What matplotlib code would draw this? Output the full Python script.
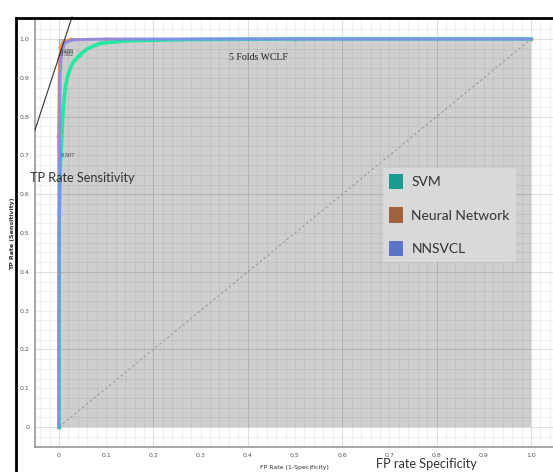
import matplotlib
matplotlib.use("Agg")
import matplotlib.pyplot as plt
from matplotlib.patches import Patch, Rectangle
from matplotlib.lines import Line2D
import numpy as np

# ROC points
svm_fpr = [0.0, 0.0, 0.002, 0.004, 0.009, 0.014, 0.02, 0.03, 0.044, 0.06, 0.087, 0.14, 0.2, 0.3, 0.5, 1.0]
svm_tpr = [0.0, 0.5, 0.65, 0.70, 0.82, 0.88, 0.912, 0.94, 0.959, 0.975, 0.989, 0.995, 0.997, 0.999, 1.0, 1.0]
nn_fpr = [0.0, 0.0, -0.002, 0.0, 0.003, 0.01, 0.025, 0.1, 0.5, 1.0]
nn_tpr = [0.0, 0.4, 0.75, 0.95, 0.98, 0.995, 1.0, 1.0, 1.0, 1.0]
nnsvcl_fpr = [0.0, 0.0, 0.002, 0.005, 0.012, 0.03, 0.1, 0.5, 1.0]
nnsvcl_tpr = [0.0, 0.2, 0.9, 0.96, 0.99, 0.998, 1.0, 1.0, 1.0]

series_names = ["SVM", "Neural Network", "NNSVCL"]
legend_colors = ["#1a9c8f", "#a0633f", "#5a74c8"]
line_colors = ["#22e8a0", "#f0904a", "#8a86ee"]

x_ticks = [0, 0.1, 0.2, 0.3, 0.4, 0.5, 0.6, 0.7, 0.8, 0.9, 1.0]
x_tick_labels = ["0", "0.1", "0.2", "0.3", "0.4", "0.5", "0.6", "0.7", "0.8", "0.9", "1.0"]
y_ticks = x_ticks
y_tick_labels = x_tick_labels

W, H = 553, 472
fig = plt.figure(figsize=(W / 100, H / 100), dpi=100)
ax = fig.add_axes([35 / W, (H - 447) / H, (W - 35) / W, (447 - 20) / H])
ax.set_xlim(-0.0508, 1.0466)
ax.set_ylim(-0.0515, 1.049)

# gray data region
ax.add_patch(Rectangle((0, 0), 1, 1, facecolor="#cfcfcf", edgecolor="none", zorder=0))

# grid
for v in np.arange(-0.04, 1.05, 0.02):
    a = 0.12 if abs(round(v / 0.2) * 0.2 - v) < 1e-6 else 0.05
    ax.axvline(v, color="black", alpha=a, lw=0.8, zorder=1)
for v in np.arange(-0.05, 1.05, 0.025):
    a = 0.12 if abs(round(v / 0.2) * 0.2 - v) < 1e-6 else 0.05
    ax.axhline(v, color="black", alpha=a, lw=0.8, zorder=1)

# chance diagonal
ax.plot([0, 1], [0, 1], color="#a0a0a0", lw=0.9, ls=(0, (2, 2)), zorder=2)

ax.plot(svm_fpr, svm_tpr, color=line_colors[0], lw=2.6, zorder=4,
        marker="o", ms=1.8, markevery=2)
ax.plot(nn_fpr, nn_tpr, color=line_colors[1], lw=1.4, zorder=3,
        marker="o", ms=2, markevery=1)
ax.plot(nnsvcl_fpr, nnsvcl_tpr, color=line_colors[2], lw=2.2, zorder=5, alpha=0.85)

ax.text(0.002, 0.965, "0.488", fontsize=4.5, family="Liberation Serif", color="#333333", zorder=6)
ax.text(0.002, 0.955, "0.502", fontsize=4.5, family="Liberation Serif", color="#333333", zorder=6)
ax.text(0.004, 0.695, "0.507", fontsize=4.5, family="Liberation Serif", color="#333333", zorder=6)
ax.text(0.36, 0.945, "5 Folds WCLF", fontsize=7, family="Liberation Serif", color="#222222", zorder=6)

ax.set_xticks(x_ticks)
ax.set_xticklabels(x_tick_labels)
ax.set_yticks(y_ticks)
ax.set_yticklabels(y_tick_labels)
ax.tick_params(length=0, labelsize=4.5, labelcolor="#555555", pad=4)
for s in ["top", "right"]:
    ax.spines[s].set_visible(False)
for s in ["left", "bottom"]:
    ax.spines[s].set_color("#999999")
    ax.spines[s].set_linewidth(1.2)

ax.set_xlabel("FP Rate (1-Specificity)", fontsize=4.5, color="#333333", labelpad=5)
ax.set_ylabel("TP Rate (Sensitivity)", fontsize=4.5, color="#333333", fontweight="bold", labelpad=3)

# overlaid slide text
narrow = ["Lato", "DejaVu Sans"]
fig.text(30 / W, 1 - 178 / H, "TP Rate Sensitivity", fontsize=9.2, family=narrow,
         color="#333333", va="center")
fig.text(376 / W, 1 - 464 / H, "FP rate Specificity", fontsize=9.2, family=narrow,
         color="#333333", va="center")

# tangent-like black line at top left
fig.add_artist(Line2D([35 / W, 72 / W], [1 - 130 / H, 1 - 17 / H], color="#333333", lw=0.8))

# slide frame
fig.add_artist(Line2D([16 / W, 1], [1 - 18 / H, 1 - 18 / H], color="black", lw=2))
fig.add_artist(Line2D([16 / W, 16 / W], [1 - 18 / H, 0], color="black", lw=2))

handles = [Patch(facecolor=c, edgecolor="none") for c in legend_colors]
leg = ax.legend(handles, series_names, loc="upper left",
                bbox_to_anchor=(383 / W, 1 - 168 / H), bbox_transform=fig.transFigure,
                prop={"family": narrow, "size": 10}, frameon=True, fancybox=False,
                handlelength=1.0, handleheight=1.3, labelspacing=1.3,
                borderpad=0.45, handletextpad=0.6, borderaxespad=0)
leg.get_frame().set_facecolor("#d9d9d9")
leg.get_frame().set_edgecolor("none")
leg.get_frame().set_alpha(1)
for t in leg.get_texts():
    t.set_color("#333333")
leg.set_zorder(10)

fig.savefig("out.png", dpi=100)
